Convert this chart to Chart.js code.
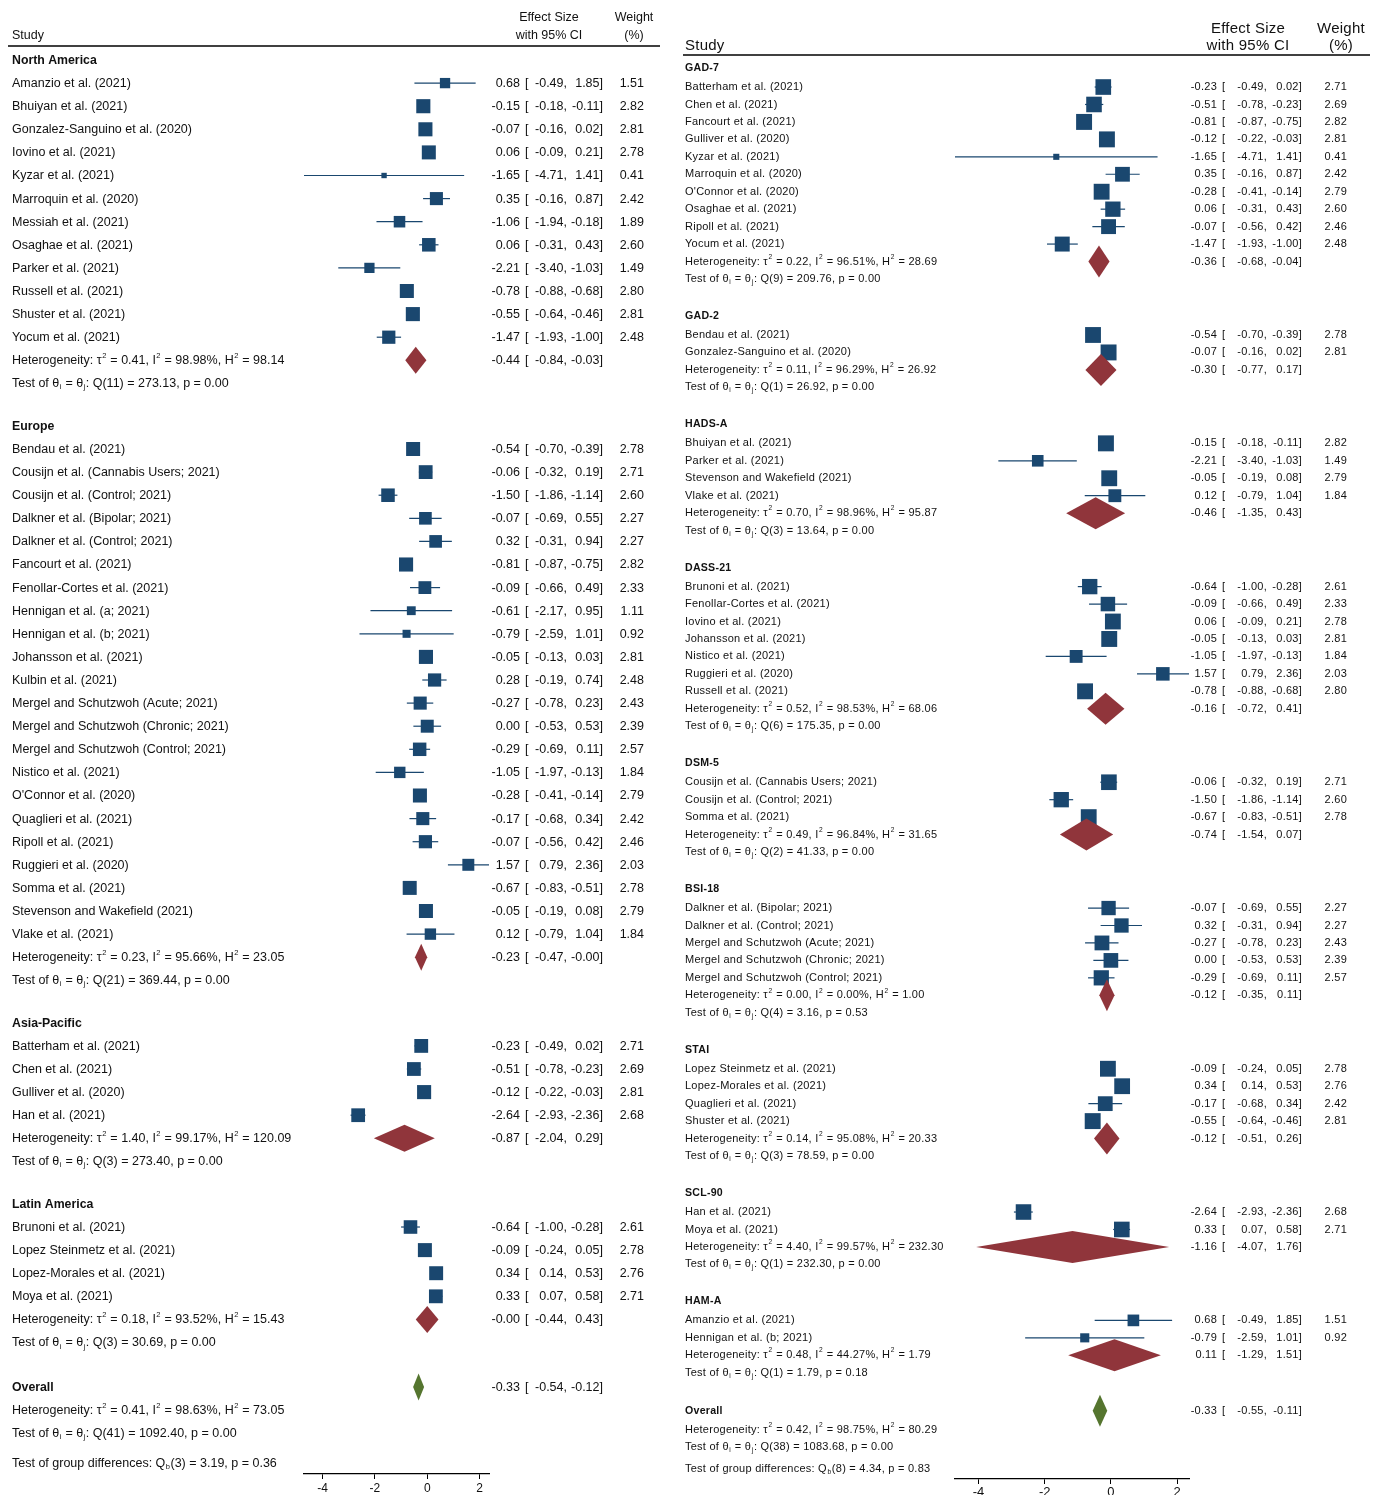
<!DOCTYPE html>
<html>
<head>
<meta charset="utf-8">
<script src="https://cdn.jsdelivr.net/npm/chart.js@4.4.1/dist/chart.umd.min.js"></script>
<style>
  html, body { margin: 0; padding: 0; background: #fff; }
  #wrap { position: relative; width: 1378px; height: 1495px; }
  #leftBox { position: absolute; left: 0; top: 0; width: 670px; height: 1495px; }
  #rightBox { position: absolute; left: 670px; top: 0; width: 708px; height: 1495px; }
</style>
</head>
<body>
<div id="wrap">
  <div id="leftBox"><canvas id="left" width="670" height="1495"></canvas></div>
  <div id="rightBox"><canvas id="right" width="708" height="1495"></canvas></div>
</div>
<script>
// ---------- Subgroups by region ----------
const regionGroups = ['North America', 'Europe', 'Asia-Pacific', 'Latin America'];
const regionGroupSize = [12, 22, 4, 4];
const regionStudy = [
  'Amanzio et al. (2021)', 'Bhuiyan et al. (2021)', 'Gonzalez-Sanguino et al. (2020)', 'Iovino et al. (2021)',
  'Kyzar et al. (2021)', 'Marroquin et al. (2020)', 'Messiah et al. (2021)', 'Osaghae et al. (2021)',
  'Parker et al. (2021)', 'Russell et al. (2021)', 'Shuster et al. (2021)', 'Yocum et al. (2021)',
  'Bendau et al. (2021)', 'Cousijn et al. (Cannabis Users; 2021)', 'Cousijn et al. (Control; 2021)',
  'Dalkner et al. (Bipolar; 2021)', 'Dalkner et al. (Control; 2021)', 'Fancourt et al. (2021)',
  'Fenollar-Cortes et al. (2021)', 'Hennigan et al. (a; 2021)', 'Hennigan et al. (b; 2021)',
  'Johansson et al. (2021)', 'Kulbin et al. (2021)', 'Mergel and Schutzwoh (Acute; 2021)',
  'Mergel and Schutzwoh (Chronic; 2021)', 'Mergel and Schutzwoh (Control; 2021)', 'Nistico et al. (2021)',
  "O'Connor et al. (2020)", 'Quaglieri et al. (2021)', 'Ripoll et al. (2021)', 'Ruggieri et al. (2020)',
  'Somma et al. (2021)', 'Stevenson and Wakefield (2021)', 'Vlake et al. (2021)',
  'Batterham et al. (2021)', 'Chen et al. (2021)', 'Gulliver et al. (2020)', 'Han et al. (2021)',
  'Brunoni et al. (2021)', 'Lopez Steinmetz et al. (2021)', 'Lopez-Morales et al. (2021)', 'Moya et al. (2021)'
];
const regionEffect = [
  0.68, -0.15, -0.07, 0.06, -1.65, 0.35, -1.06, 0.06, -2.21, -0.78, -0.55, -1.47,
  -0.54, -0.06, -1.50, -0.07, 0.32, -0.81, -0.09, -0.61, -0.79, -0.05, 0.28, -0.27, 0.00, -0.29, -1.05,
  -0.28, -0.17, -0.07, 1.57, -0.67, -0.05, 0.12,
  -0.23, -0.51, -0.12, -2.64,
  -0.64, -0.09, 0.34, 0.33
];
const regionLower = [
  -0.49, -0.18, -0.16, -0.09, -4.71, -0.16, -1.94, -0.31, -3.40, -0.88, -0.64, -1.93,
  -0.70, -0.32, -1.86, -0.69, -0.31, -0.87, -0.66, -2.17, -2.59, -0.13, -0.19, -0.78, -0.53, -0.69, -1.97,
  -0.41, -0.68, -0.56, 0.79, -0.83, -0.19, -0.79,
  -0.49, -0.78, -0.22, -2.93,
  -1.00, -0.24, 0.14, 0.07
];
const regionUpper = [
  1.85, -0.11, 0.02, 0.21, 1.41, 0.87, -0.18, 0.43, -1.03, -0.68, -0.46, -1.00,
  -0.39, 0.19, -1.14, 0.55, 0.94, -0.75, 0.49, 0.95, 1.01, 0.03, 0.74, 0.23, 0.53, 0.11, -0.13,
  -0.14, 0.34, 0.42, 2.36, -0.51, 0.08, 1.04,
  0.02, -0.23, -0.03, -2.36,
  -0.28, 0.05, 0.53, 0.58
];
const regionWeight = [
  1.51, 2.82, 2.81, 2.78, 0.41, 2.42, 1.89, 2.60, 1.49, 2.80, 2.81, 2.48,
  2.78, 2.71, 2.60, 2.27, 2.27, 2.82, 2.33, 1.11, 0.92, 2.81, 2.48, 2.43, 2.39, 2.57, 1.84,
  2.79, 2.42, 2.46, 2.03, 2.78, 2.79, 1.84,
  2.71, 2.69, 2.81, 2.68,
  2.61, 2.78, 2.76, 2.71
];
const regionPoolEffect = [-0.44, -0.23, -0.87, -0];
const regionPoolLower = [-0.84, -0.47, -2.04, -0.44];
const regionPoolUpper = [-0.03, -0, 0.29, 0.43];
const regionTau2 = [0.41, 0.23, 1.40, 0.18];
const regionI2 = [98.98, 95.66, 99.17, 93.52];
const regionH2 = [98.14, 23.05, 120.09, 15.43];
const regionQdf = [11, 21, 3, 3];
const regionQ = [273.13, 369.44, 273.40, 30.69];
const regionP = [0.00, 0.00, 0.00, 0.00];
const regionOverall = [-0.33, -0.54, -0.12];        // effect, lower, upper
const regionOverallHet = [0.41, 98.63, 73.05];      // tau2, I2, H2
const regionOverallTest = [41, 1092.40, 0.00];      // df, Q, p
const regionGroupTest = [3, 3.19, 0.36];            // df, Qb, p

// ---------- Subgroups by anxiety scale ----------
const scaleGroups = ['GAD-7', 'GAD-2', 'HADS-A', 'DASS-21', 'DSM-5', 'BSI-18', 'STAI', 'SCL-90', 'HAM-A'];
const scaleGroupSize = [10, 2, 4, 7, 3, 5, 4, 2, 2];
const scaleStudy = [
  'Batterham et al. (2021)', 'Chen et al. (2021)', 'Fancourt et al. (2021)', 'Gulliver et al. (2020)',
  'Kyzar et al. (2021)', 'Marroquin et al. (2020)', "O'Connor et al. (2020)", 'Osaghae et al. (2021)',
  'Ripoll et al. (2021)', 'Yocum et al. (2021)',
  'Bendau et al. (2021)', 'Gonzalez-Sanguino et al. (2020)',
  'Bhuiyan et al. (2021)', 'Parker et al. (2021)', 'Stevenson and Wakefield (2021)', 'Vlake et al. (2021)',
  'Brunoni et al. (2021)', 'Fenollar-Cortes et al. (2021)', 'Iovino et al. (2021)', 'Johansson et al. (2021)',
  'Nistico et al. (2021)', 'Ruggieri et al. (2020)', 'Russell et al. (2021)',
  'Cousijn et al. (Cannabis Users; 2021)', 'Cousijn et al. (Control; 2021)', 'Somma et al. (2021)',
  'Dalkner et al. (Bipolar; 2021)', 'Dalkner et al. (Control; 2021)', 'Mergel and Schutzwoh (Acute; 2021)',
  'Mergel and Schutzwoh (Chronic; 2021)', 'Mergel and Schutzwoh (Control; 2021)',
  'Lopez Steinmetz et al. (2021)', 'Lopez-Morales et al. (2021)', 'Quaglieri et al. (2021)', 'Shuster et al. (2021)',
  'Han et al. (2021)', 'Moya et al. (2021)',
  'Amanzio et al. (2021)', 'Hennigan et al. (b; 2021)'
];
const scaleEffect = [
  -0.23, -0.51, -0.81, -0.12, -1.65, 0.35, -0.28, 0.06, -0.07, -1.47,
  -0.54, -0.07,
  -0.15, -2.21, -0.05, 0.12,
  -0.64, -0.09, 0.06, -0.05, -1.05, 1.57, -0.78,
  -0.06, -1.50, -0.67,
  -0.07, 0.32, -0.27, 0.00, -0.29,
  -0.09, 0.34, -0.17, -0.55,
  -2.64, 0.33,
  0.68, -0.79
];
const scaleLower = [
  -0.49, -0.78, -0.87, -0.22, -4.71, -0.16, -0.41, -0.31, -0.56, -1.93,
  -0.70, -0.16,
  -0.18, -3.40, -0.19, -0.79,
  -1.00, -0.66, -0.09, -0.13, -1.97, 0.79, -0.88,
  -0.32, -1.86, -0.83,
  -0.69, -0.31, -0.78, -0.53, -0.69,
  -0.24, 0.14, -0.68, -0.64,
  -2.93, 0.07,
  -0.49, -2.59
];
const scaleUpper = [
  0.02, -0.23, -0.75, -0.03, 1.41, 0.87, -0.14, 0.43, 0.42, -1.00,
  -0.39, 0.02,
  -0.11, -1.03, 0.08, 1.04,
  -0.28, 0.49, 0.21, 0.03, -0.13, 2.36, -0.68,
  0.19, -1.14, -0.51,
  0.55, 0.94, 0.23, 0.53, 0.11,
  0.05, 0.53, 0.34, -0.46,
  -2.36, 0.58,
  1.85, 1.01
];
const scaleWeight = [
  2.71, 2.69, 2.82, 2.81, 0.41, 2.42, 2.79, 2.60, 2.46, 2.48,
  2.78, 2.81,
  2.82, 1.49, 2.79, 1.84,
  2.61, 2.33, 2.78, 2.81, 1.84, 2.03, 2.80,
  2.71, 2.60, 2.78,
  2.27, 2.27, 2.43, 2.39, 2.57,
  2.78, 2.76, 2.42, 2.81,
  2.68, 2.71,
  1.51, 0.92
];
const scalePoolEffect = [-0.36, -0.30, -0.46, -0.16, -0.74, -0.12, -0.12, -1.16, 0.11];
const scalePoolLower = [-0.68, -0.77, -1.35, -0.72, -1.54, -0.35, -0.51, -4.07, -1.29];
const scalePoolUpper = [-0.04, 0.17, 0.43, 0.41, 0.07, 0.11, 0.26, 1.76, 1.51];
const scaleTau2 = [0.22, 0.11, 0.70, 0.52, 0.49, 0.00, 0.14, 4.40, 0.48];
const scaleI2 = [96.51, 96.29, 98.96, 98.53, 96.84, 0.00, 95.08, 99.57, 44.27];
const scaleH2 = [28.69, 26.92, 95.87, 68.06, 31.65, 1.00, 20.33, 232.30, 1.79];
const scaleQdf = [9, 1, 3, 6, 2, 4, 3, 1, 1];
const scaleQ = [209.76, 26.92, 13.64, 175.35, 41.33, 3.16, 78.59, 232.30, 1.79];
const scaleP = [0.00, 0.00, 0.00, 0.00, 0.00, 0.53, 0.00, 0.00, 0.18];
const scaleOverall = [-0.33, -0.55, -0.11];
const scaleOverallHet = [0.42, 98.75, 80.29];
const scaleOverallTest = [38, 1083.68, 0.00];
const scaleGroupTest = [8, 4.34, 0.83];

// Shared effect-size axis
const xMin = -4.71, xMax = 2.36;
const xTicks = [-4, -2, 0, 2];

// ---------- drawing ----------
const FONT = '"Liberation Sans", Arial, Helvetica, sans-serif';
const NAVY = '#1a476f', MAROON = '#90353b', GREEN = '#55752f', INK = '#111';
const CANVAS_H = 1495;

function fmt(v) {
  const s = Math.abs(v).toFixed(2);
  return (v < 0 || Object.is(v, -0)) ? '-' + s : s;
}

function panelData(prefix) {
  return prefix === 'region' ? {
    groups: regionGroups, size: regionGroupSize, study: regionStudy, eff: regionEffect, lo: regionLower,
    hi: regionUpper, wt: regionWeight, pEff: regionPoolEffect, pLo: regionPoolLower, pHi: regionPoolUpper,
    tau2: regionTau2, i2: regionI2, h2: regionH2, qdf: regionQdf, q: regionQ, p: regionP,
    overall: regionOverall, oHet: regionOverallHet, oTest: regionOverallTest, gTest: regionGroupTest
  } : {
    groups: scaleGroups, size: scaleGroupSize, study: scaleStudy, eff: scaleEffect, lo: scaleLower,
    hi: scaleUpper, wt: scaleWeight, pEff: scalePoolEffect, pLo: scalePoolLower, pHi: scalePoolUpper,
    tau2: scaleTau2, i2: scaleI2, h2: scaleH2, qdf: scaleQdf, q: scaleQ, p: scaleP,
    overall: scaleOverall, oHet: scaleOverallHet, oTest: scaleOverallTest, gTest: scaleGroupTest
  };
}

// Row layout in row units (1 = one study line)
function buildRows(D, S) {
  const rows = [];
  let pos = 0, si = 0;
  D.groups.forEach((g, gi) => {
    if (gi > 0) pos += S.groupGap;
    rows.push({ kind: 'head', text: g, pos });
    pos += S.headGap;
    for (let k = 0; k < D.size[gi]; k++, si++) { rows.push({ kind: 'study', i: si, pos }); pos += 1; }
    rows.push({ kind: 'het', g: gi, pos }); pos += 1;
    rows.push({ kind: 'test', g: gi, pos });
  });
  pos += S.overallGap; rows.push({ kind: 'overall', pos });
  pos += S.headGap; rows.push({ kind: 'ohet', pos });
  pos += 1; rows.push({ kind: 'otest', pos });
  pos += S.diffGap; rows.push({ kind: 'diff', pos });
  return rows;
}

function setFont(ctx, size, bold) { ctx.font = (bold ? 'bold ' : '') + size + 'px ' + FONT; }

// rich text: segments [text, mode] with mode '', 'sup' or 'sub'
function drawRich(ctx, segs, x, y, size) {
  let cx = x;
  ctx.textAlign = 'left';
  segs.forEach(([t, m]) => {
    if (!m) { setFont(ctx, size); ctx.fillText(t, cx, y); cx += ctx.measureText(t).width; }
    else {
      const s = size * 0.6;
      setFont(ctx, s);
      const dy = m === 'sup' ? -size * 0.42 : size * 0.28;
      ctx.fillText(t, cx + 0.5, y + dy);
      cx += ctx.measureText(t).width + 1;
    }
  });
  setFont(ctx, size);
}

function hetSegs(t2, i2, h2) {
  return [['Heterogeneity: τ', ''], ['2', 'sup'], [' = ' + fmt(t2) + ', I', ''], ['2', 'sup'],
          [' = ' + fmt(i2) + '%, H', ''], ['2', 'sup'], [' = ' + fmt(h2), '']];
}
function testSegs(df, q, p) {
  return [['Test of θ', ''], ['i', 'sub'], [' = θ', ''], ['j', 'sub'],
          [': Q(' + df + ') = ' + fmt(q) + ', p = ' + fmt(p), '']];
}

function makeChart(canvasId, D, S) {
  const rows = buildRows(D, S);
  const studyPos = [];
  rows.forEach(r => { if (r.kind === 'study') studyPos[r.i] = r.pos; });

  const squares = D.study.map((s, i) => ({ x: D.eff[i], y: studyPos[i], w: D.wt[i] }));
  const ciSets = D.study.map((s, i) => ({
    data: [{ x: D.lo[i], y: studyPos[i] }, { x: D.hi[i], y: studyPos[i] }],
    showLine: true, borderColor: NAVY, borderWidth: S.ciWidth, pointRadius: 0, order: 2
  }));

  const yMin = -(S.firstY - S.top) / S.rowPx;
  const yMax = (S.axisY - S.firstY) / S.rowPx;
  const W = document.getElementById(canvasId).width;

  const forestText = {
    id: 'forestText',
    afterDraw(chart) {
      const ctx = chart.ctx, xs = chart.scales.x, ys = chart.scales.y;
      ctx.save();
      ctx.fillStyle = INK;
      ctx.textBaseline = 'middle';
      if ('letterSpacing' in ctx) ctx.letterSpacing = S.spacing + 'px';

      // column headers
      setFont(ctx, S.hdrFont);
      ctx.textAlign = 'left'; ctx.fillText('Study', S.labelX, S.hdrY2);
      ctx.textAlign = 'center';
      ctx.fillText('Effect Size', S.esX, S.hdrY1); ctx.fillText('with 95% CI', S.esX, S.hdrY2);
      ctx.fillText('Weight', S.wtX, S.hdrY1); ctx.fillText('(%)', S.wtX, S.hdrY2);
      ctx.strokeStyle = '#000'; ctx.lineWidth = 1.5;
      ctx.beginPath(); ctx.moveTo(S.lineX0, S.lineY); ctx.lineTo(S.lineX1, S.lineY); ctx.stroke();

      const effText = (yy, e, l, h, w) => {
        setFont(ctx, S.font);
        ctx.textAlign = 'right'; ctx.fillText(fmt(e), S.colEst, yy);
        ctx.textAlign = 'left'; ctx.fillText('[', S.colBr, yy);
        ctx.textAlign = 'right'; ctx.fillText(fmt(l) + ',', S.colLo, yy);
        ctx.fillText(fmt(h) + ']', S.colHi, yy);
        if (w !== undefined) ctx.fillText(fmt(w), S.colWt, yy);
      };
      const diamond = (yy, e, l, h, color) => {
        const x0 = xs.getPixelForValue(l), x1 = xs.getPixelForValue(h), xc = xs.getPixelForValue(e);
        const hh = S.diamondH / 2;
        ctx.fillStyle = color;
        ctx.beginPath();
        ctx.moveTo(x0, yy); ctx.lineTo(xc, yy - hh); ctx.lineTo(x1, yy); ctx.lineTo(xc, yy + hh);
        ctx.closePath(); ctx.fill();
        ctx.fillStyle = INK;
      };

      rows.forEach(r => {
        const yy = ys.getPixelForValue(r.pos);
        const ty = yy + S.textDy;
        switch (r.kind) {
          case 'head':
            setFont(ctx, S.headFont, true); ctx.textAlign = 'left'; ctx.fillText(r.text, S.labelX, ty); break;
          case 'study':
            setFont(ctx, S.font); ctx.textAlign = 'left'; ctx.fillText(D.study[r.i], S.labelX, ty);
            effText(ty, D.eff[r.i], D.lo[r.i], D.hi[r.i], D.wt[r.i]); break;
          case 'het':
            diamond(yy, D.pEff[r.g], D.pLo[r.g], D.pHi[r.g], MAROON);
            drawRich(ctx, hetSegs(D.tau2[r.g], D.i2[r.g], D.h2[r.g]), S.labelX, ty, S.font);
            effText(ty, D.pEff[r.g], D.pLo[r.g], D.pHi[r.g]); break;
          case 'test':
            drawRich(ctx, testSegs(D.qdf[r.g], D.q[r.g], D.p[r.g]), S.labelX, ty, S.font); break;
          case 'overall':
            diamond(yy, D.overall[0], D.overall[1], D.overall[2], GREEN);
            setFont(ctx, S.headFont, true); ctx.textAlign = 'left'; ctx.fillText('Overall', S.labelX, ty);
            effText(ty, D.overall[0], D.overall[1], D.overall[2]); break;
          case 'ohet':
            drawRich(ctx, hetSegs(D.oHet[0], D.oHet[1], D.oHet[2]), S.labelX, ty, S.font); break;
          case 'otest':
            drawRich(ctx, testSegs(D.oTest[0], D.oTest[1], D.oTest[2]), S.labelX, ty, S.font); break;
          case 'diff':
            drawRich(ctx, [['Test of group differences: Q', ''], ['b', 'sub'],
              ['(' + D.gTest[0] + ') = ' + fmt(D.gTest[1]) + ', p = ' + fmt(D.gTest[2]), '']], S.labelX, ty, S.font);
            break;
        }
      });
      ctx.restore();
    }
  };

  return new Chart(document.getElementById(canvasId), {
    type: 'scatter',
    data: {
      datasets: [{
        data: squares, pointStyle: 'rect', backgroundColor: NAVY, borderWidth: 0, order: 1,
        pointRadius: c => (c.raw ? S.sq * Math.sqrt(c.raw.w) / Math.SQRT2 : 0)
      }].concat(ciSets)
    },
    options: {
      responsive: false, animation: false, events: [], devicePixelRatio: 1,
      layout: { padding: { left: S.areaL, right: W - S.areaR, top: S.top, bottom: 0 } },
      plugins: { legend: { display: false }, tooltip: { enabled: false } },
      scales: {
        x: {
          type: 'linear', position: 'bottom', min: xMin, max: xMax,
          afterBuildTicks: s => { s.ticks = xTicks.map(v => ({ value: v })); },
          afterFit: s => { s.height = CANVAS_H - S.axisY; },
          grid: { display: true, drawOnChartArea: false, drawTicks: true, tickLength: 5, color: '#000', lineWidth: 1 },
          border: { display: true, color: '#000', width: 1.3 },
          ticks: { color: INK, padding: S.tickPad, maxRotation: 0, autoSkip: false,
                   font: { family: FONT, size: S.tickFont }, callback: v => String(v) }
        },
        y: { type: 'linear', display: false, reverse: true, min: yMin, max: yMax }
      }
    },
    plugins: [forestText]
  });
}

// left panel: by region
makeChart('left', panelData('region'), {
  rowPx: 23.1, firstY: 60, top: 46, axisY: 1474,
  headGap: 1.0, groupGap: 1.84, overallGap: 1.93, diffGap: 1.29,
  areaL: 304, areaR: 489, textDy: 0.5,
  font: 12.5, headFont: 12.3, hdrFont: 12.5, tickFont: 12, tickPad: 2, spacing: 0,
  labelX: 12, colEst: 520, colBr: 525, colLo: 567, colHi: 603, colWt: 644,
  esX: 549, wtX: 634, hdrY1: 18, hdrY2: 36, lineY: 46, lineX0: 8, lineX1: 660,
  sq: 8.4, diamondH: 27, ciWidth: 1.2
});

// right panel: by anxiety scale (canvas starts at page x = 670)
makeChart('right', panelData('scale'), {
  rowPx: 17.45, firstY: 68, top: 55, axisY: 1479,
  headGap: 1.09, groupGap: 2.12, overallGap: 2.18, diffGap: 1.26,
  areaL: 285, areaR: 519, textDy: 0,
  font: 11, headFont: 10.6, hdrFont: 15, tickFont: 13, tickPad: 1, spacing: 0.25,
  labelX: 15, colEst: 547, colBr: 552, colLo: 597, colHi: 632, colWt: 677,
  esX: 578, wtX: 671, hdrY1: 29, hdrY2: 46, lineY: 55, lineX0: 13, lineX1: 700,
  sq: 9.5, diamondH: 32, ciWidth: 1.2
});
</script>
</body>
</html>
